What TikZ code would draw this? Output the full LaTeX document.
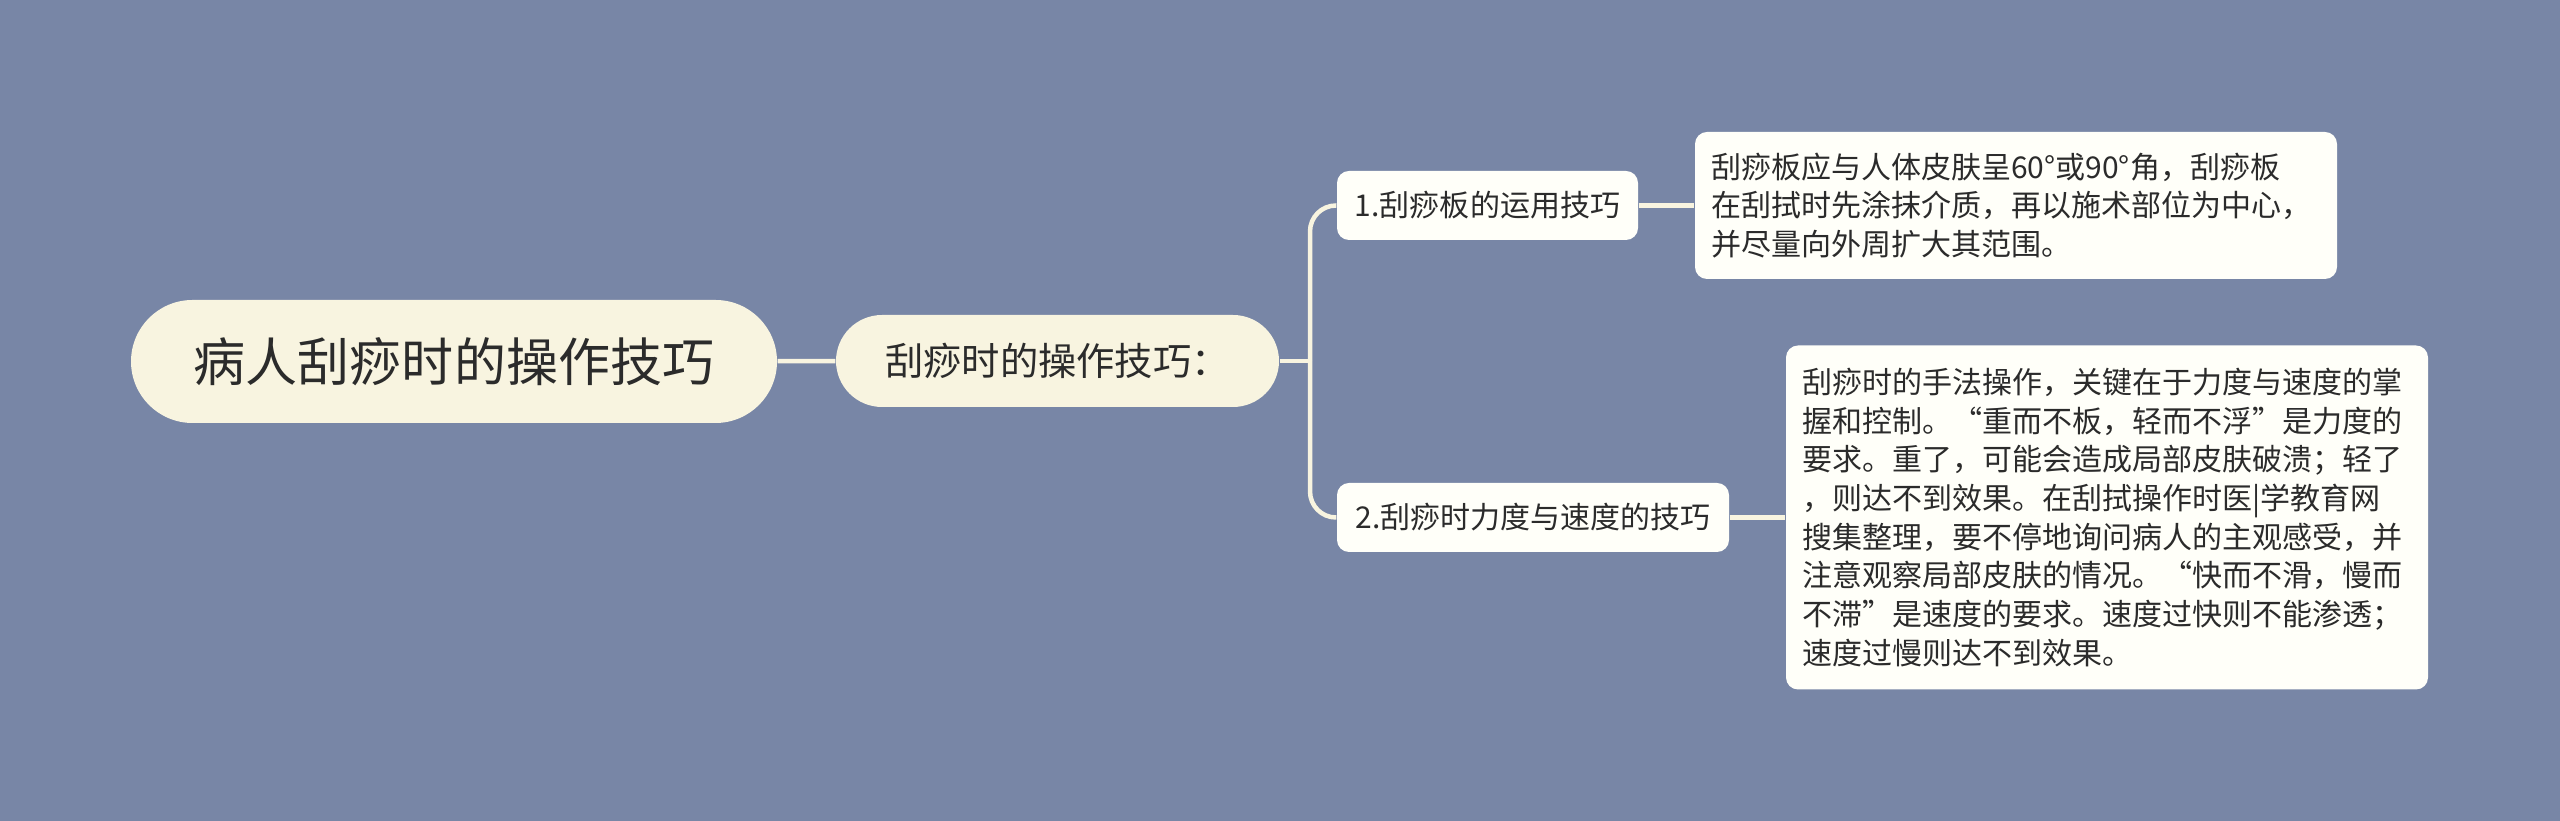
\documentclass[tikz,border=0pt]{standalone}
\usepackage{fontspec}
\setmainfont{Noto Sans CJK SC}
\usepackage{tikz}
\usetikzlibrary{positioning}
\definecolor{bgblue}{HTML}{7886A6}
\definecolor{cream}{HTML}{F8F4E0}
\definecolor{paper}{HTML}{FFFFF9}
\definecolor{ink}{HTML}{2B2B2B}

\begin{document}
\begin{tikzpicture}[
	pill/.style={fill=cream,inner sep=0pt},
	topicbox/.style={fill=paper,rounded corners=0.12cm,inner sep=0pt,minimum height=0.69cm,
		font=\fontsize{8.54pt}{11pt}\selectfont},
	leafbox/.style={fill=paper,rounded corners=0.12cm,inner xsep=0.16cm,inner ysep=0pt,
		text width=6.10cm,align=left,font=\fontsize{8.54pt}{11pt}\selectfont}]
\fill[bgblue] (0,0) rectangle (25.6,-8.21);
\begin{scope}[every node/.style={rectangle,text=ink}]
	\node[pill,rounded corners=0.615cm,minimum width=6.46cm,minimum height=1.23cm,
		font=\fontsize{14.8pt}{18pt}\selectfont] (root) at (4.54,-3.615) {病人刮痧时的操作技巧};
	\node[pill,rounded corners=0.46cm,minimum width=4.43cm,minimum height=0.92cm,
		font=\fontsize{10.9pt}{13pt}\selectfont] (sub) at (10.575,-3.61) {刮痧时的操作技巧：};

	\node[topicbox,minimum width=3.01cm] (board) at (14.875,-2.055) {1.刮痧板的运用技巧};
	\node[topicbox,minimum width=3.92cm] (force) at (15.33,-5.175) {2.刮痧时力度与速度的技巧};

	\node[leafbox,minimum height=1.47cm] (boardtext) at (20.16,-2.055) {刮痧板应与人体皮肤呈60°或90°角，刮痧板\\
	在刮拭时先涂抹介质，再以施术部位为中心，\\
	并尽量向外周扩大其范围。};
	\node[leafbox,minimum height=3.44cm] (forcetext) at (21.07,-5.175) {刮痧时的手法操作，关键在于力度与速度的掌\\
	握和控制。“重而不板，轻而不浮”是力度的\\
	要求。重了，可能会造成局部皮肤破溃；轻了\\
	，则达不到效果。在刮拭操作时医|学教育网\\
	搜集整理，要不停地询问病人的主观感受，并\\
	注意观察局部皮肤的情况。“快而不滑，慢而\\
	不滞”是速度的要求。速度过快则不能渗透；\\
	速度过慢则达不到效果。};
\end{scope}

\begin{scope}[color=cream,line width=0.045cm]
	\coordinate (hub) at (13.10,-3.61);
	\draw (root) -- (sub);
	\draw (sub.east) -- (hub);
	\draw[rounded corners=0.26cm] (hub) |- (board.west);
	\draw[rounded corners=0.26cm] (hub) |- (force.west);
	\draw (board) -- (boardtext);
	\draw (force) -- (forcetext);
\end{scope}
\end{tikzpicture}
\end{document}
